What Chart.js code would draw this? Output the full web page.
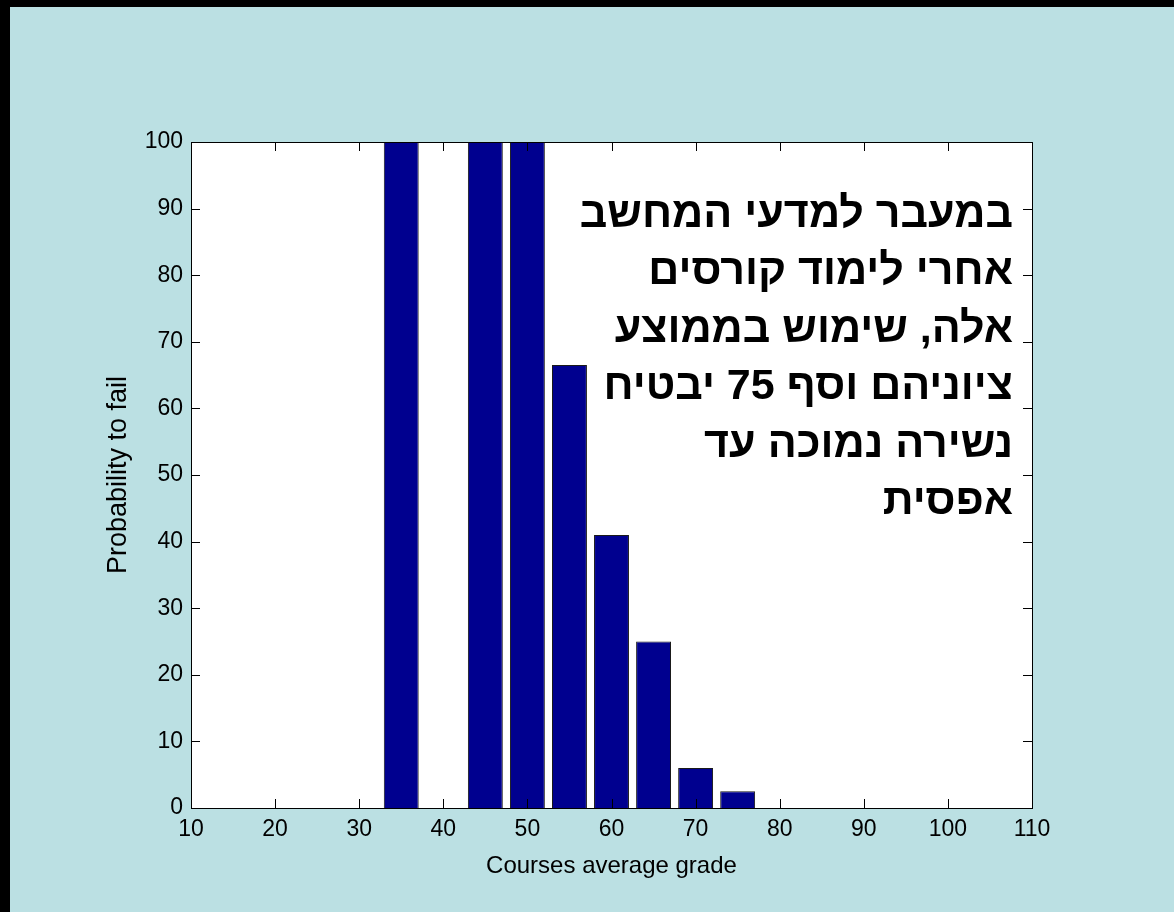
<!DOCTYPE html>
<html>
<head>
<meta charset="utf-8">
<script src="https://cdn.jsdelivr.net/npm/chart.js@4/dist/chart.umd.min.js"></script>
<style>
  html, body { margin: 0; padding: 0; background: #000; width: 1174px; height: 912px; overflow: hidden; }
  #wrap { position: absolute; left: 10px; top: 7px; width: 1164px; height: 905px; background: #bbe0e3; }
  canvas { display: block; }
</style>
</head>
<body>
<div id="wrap"><canvas id="c" width="1164" height="905"></canvas></div>
<script>
// ---- data ----
const grades = [15, 20, 25, 30, 35, 40, 45, 50, 55, 60, 65, 70, 75, 80, 85, 90, 95, 100, 105];
const failProbability = [0, 0, 0, 0, 100, 0, 100, 100, 66.5, 41, 25, 6, 2.5, 0, 0, 0, 0, 0, 0];
const xTicks = [10, 20, 30, 40, 50, 60, 70, 80, 90, 100, 110];
const yTicks = [0, 10, 20, 30, 40, 50, 60, 70, 80, 90, 100];
const xTitle = 'Courses average grade';
const yTitle = 'Probability to fail';
const noteLines = [
  'במעבר למדעי המחשב',
  'אחרי לימוד קורסים',
  'אלה, שימוש בממוצע',
  'ציוניהם וסף 75 יבטיח',
  'נשירה נמוכה עד',
  'אפסית'
];

const FONT = '"Liberation Sans", Arial, sans-serif';

const framePlugin = {
  id: 'frame',
  beforeDatasetsDraw(chart) {
    const {ctx, chartArea: a} = chart;
    ctx.save();
    ctx.fillStyle = '#ffffff';
    ctx.fillRect(a.left, a.top, a.right - a.left, a.bottom - a.top);
    ctx.restore();
  },
  afterDatasetsDraw(chart) {
    const {ctx, chartArea: a, scales} = chart;
    const L = 9;
    ctx.save();
    ctx.strokeStyle = '#000';
    ctx.lineWidth = 1;
    ctx.beginPath();
    scales.y.ticks.forEach(t => {
      const py = Math.round(scales.y.getPixelForValue(t.value)) + 0.5;
      ctx.moveTo(a.left, py); ctx.lineTo(a.left + L, py);
      ctx.moveTo(a.right, py); ctx.lineTo(a.right - L, py);
    });
    scales.x.ticks.forEach(t => {
      const px = Math.round(scales.x.getPixelForValue(t.value)) + 0.5;
      ctx.moveTo(px, a.bottom); ctx.lineTo(px, a.bottom - L);
      ctx.moveTo(px, a.top); ctx.lineTo(px, a.top + L);
    });
    ctx.stroke();
    ctx.strokeRect(Math.round(a.left) + 0.5, Math.round(a.top) + 0.5,
                   Math.round(a.right - a.left), Math.round(a.bottom - a.top));
    // note text
    ctx.fillStyle = '#000';
    ctx.font = 'bold 43px ' + FONT;
    ctx.direction = 'rtl';
    ctx.textAlign = 'right';
    ctx.textBaseline = 'alphabetic';
    noteLines.forEach((line, i) => {
      ctx.fillText(line, a.right - 19, a.top + 85 + i * 57.4);
    });
    ctx.restore();
  }
};

new Chart(document.getElementById('c'), {
  type: 'bar',
  data: {
    datasets: [{
      data: grades.map((g, i) => ({x: g, y: failProbability[i]})),
      backgroundColor: '#00008f',
      borderColor: '#1a1a1a',
      borderWidth: 1,
      borderSkipped: 'bottom',
      barPercentage: 1.0,
      categoryPercentage: 0.83
    }]
  },
  options: {
    responsive: false,
    animation: false,
    devicePixelRatio: 1,
    layout: { padding: { left: 0, top: 135, right: 142, bottom: 0 } },
    plugins: { legend: { display: false }, tooltip: { enabled: false } },
    scales: {
      x: {
        type: 'linear',
        min: 10, max: 110,
        offset: false,
        grid: { display: false, drawTicks: false },
        border: { display: false },
        afterBuildTicks(scale) { scale.ticks = xTicks.map(v => ({value: v})); },
        afterFit(scale) { scale.height = 104; },
        ticks: { color: '#000', font: { family: FONT, size: 23 }, padding: 8, maxRotation: 0, autoSkip: false },
        title: { display: true, text: xTitle, color: '#000', font: { family: FONT, size: 24 }, padding: { top: 0, bottom: 31 } }
      },
      y: {
        type: 'linear',
        min: 0, max: 100,
        grid: { display: false, drawTicks: false },
        border: { display: false },
        afterBuildTicks(scale) { scale.ticks = yTicks.map(v => ({value: v})); },
        afterFit(scale) { scale.width = 181; },
        ticks: { color: '#000', font: { family: FONT, size: 23 }, padding: 8, autoSkip: false },
        title: { display: true, text: yTitle, color: '#000', font: { family: FONT, size: 27 }, padding: { top: 92, bottom: 0 } }
      }
    }
  },
  plugins: [framePlugin]
});
</script>
</body>
</html>
